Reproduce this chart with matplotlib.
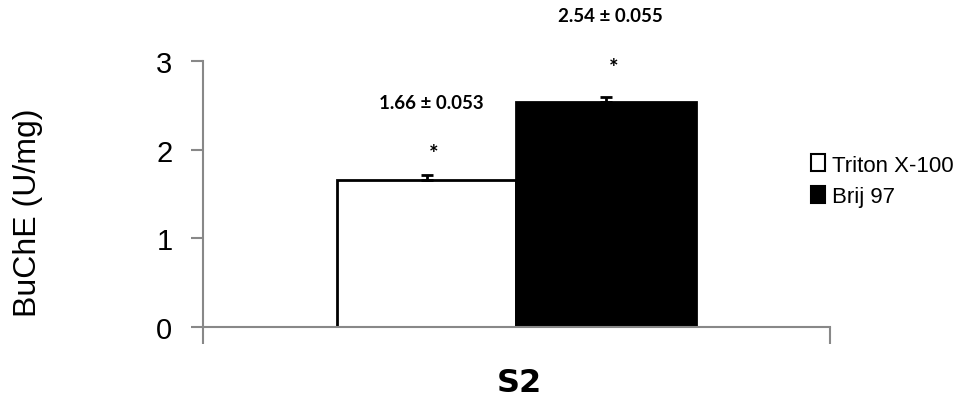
import numpy as np
import matplotlib.pyplot as plt
from matplotlib.patches import Patch

# data
group = "S2"
series = ["Triton X-100", "Brij 97"]
values = [1.66, 2.54]
errors = [0.053, 0.055]
labels = ["1.66 ± 0.053", "2.54 ± 0.055"]
fills = ["white", "black"]

fig = plt.figure(figsize=(9.68, 4.02), dpi=100)
ax = fig.add_axes([0.2097, 0.184, 0.6477, 0.662])

offsets = [-0.1435, 0.1435]
width = 0.287
for off, v, e, c in zip(offsets, values, errors, fills):
    ax.bar(off, v, width=width, color=c, edgecolor="black", linewidth=2, zorder=2)
    ax.errorbar(off, v, yerr=[[0], [e]], fmt="none", ecolor="black",
                elinewidth=2, capsize=4.5, capthick=2, zorder=3)

# value labels and stars
lab_font = dict(fontfamily="Lato", fontweight="bold")
ax.text(offsets[0] + 0.011, values[0] + 0.30, "*", ha="center", va="center",
        fontsize=16, **lab_font)
ax.text(offsets[0] + 0.007, values[0] + 0.87, labels[0], ha="center", va="center",
        fontsize=13.5, **lab_font)
ax.text(offsets[1] + 0.011, values[1] + 0.39, "*", ha="center", va="center",
        fontsize=16, **lab_font)
ax.text(offsets[1] + 0.007, values[1] + 0.97, labels[1], ha="center", va="center",
        fontsize=13.5, clip_on=False, **lab_font)

ax.set_xlim(-0.5, 0.5)
ax.set_ylim(0, 3)
ax.set_yticks([0, 1, 2, 3])
ax.set_yticklabels(["0", "1", "2", "3"], fontsize=21, fontfamily="Liberation Sans")
ax.set_xticks([-0.5, 0.5])
ax.set_xticklabels(["", ""])
ax.tick_params(axis="y", length=9, width=1.5, color="#888888", pad=13)
ax.tick_params(axis="x", length=12, width=1.5, color="#888888")
for s in ["top", "right"]:
    ax.spines[s].set_visible(False)
for s in ["left", "bottom"]:
    ax.spines[s].set_color("#888888")
    ax.spines[s].set_linewidth(1.5)
ax.spines["bottom"].set_zorder(4)

fig.text(28 / 968, 1 - 213 / 402, "BuChE (U/mg)", rotation=90, ha="center", va="center",
         fontsize=23, fontfamily="Liberation Sans")
fig.text(0.537, 0.047, group, ha="center", va="center", fontsize=23,
         fontweight="heavy", fontfamily="DejaVu Sans")

handles = [Patch(facecolor=c, edgecolor="black", linewidth=1.5) for c in fills]
fig.legend(handles, series, loc="center left", bbox_to_anchor=(0.838, 0.548),
           frameon=False, handlelength=0.6, handleheight=0.8,
           handletextpad=0.35, labelspacing=0.45, borderaxespad=0, borderpad=0,
           prop={"family": "Liberation Sans", "size": 16})

fig.savefig("out.png", dpi=100)
